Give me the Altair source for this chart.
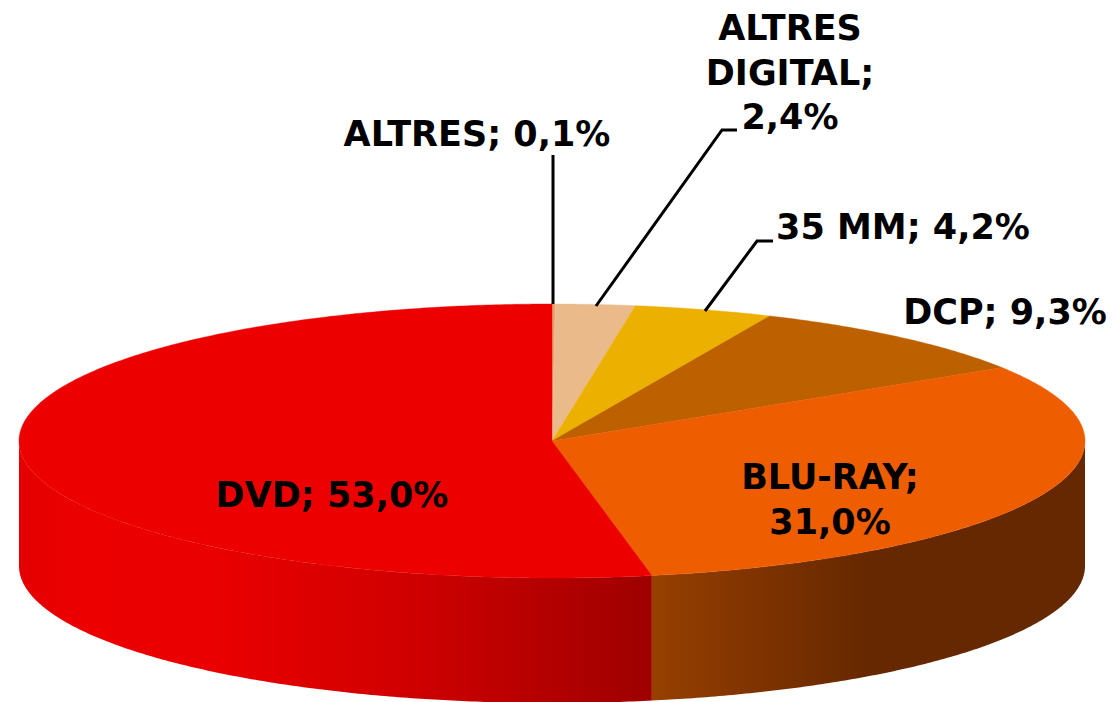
import math
import altair as alt

# Chart values
names = ["ALTRES", "ALTRES DIGITAL", "35 MM", "DCP", "BLU-RAY", "DVD"]
shares = [0.1, 2.4, 4.2, 9.3, 31.0, 53.0]
slice_colors = ["#e9a070", "#ebba8b", "#ecb100", "#bc6000", "#ee5e00", "#ec0000"]

# Labels
label_texts = ["ALTRES; 0,1%", "ALTRES\nDIGITAL;\n2,4%", "35 MM; 4,2%", "DCP; 9,3%", "BLU-RAY;\n31,0%", "DVD; 53,0%"]
label_x = [477, 790, 903, 1005, 830, 332]
label_y = [135, 29, 228, 313, 478, 496]

# Layout in page pixels
MARGIN = 8
CX, CY, RX, RY = 552, 441, 533, 137
DEPTH = 125
FONT = "DejaVu Sans"
FONT_SIZE = 35


def pt(deg, dy=0):
    a = math.radians(deg)
    return [CX + RX * math.sin(a) - MARGIN, CY - RY * math.cos(a) + dy - MARGIN]


def arc(a0, a1, dy=0):
    n = max(2, int(abs(a1 - a0) * 2) + 1)
    return [pt(a0 + (a1 - a0) * i / (n - 1), dy) for i in range(n)]


def feature(name, kind, coords):
    return {"type": "Feature", "properties": {"name": name},
            "geometry": {"type": kind, "coordinates": coords}}


total = sum(shares)
wedges = []
bounds = {}
acc = 0.0
for name, share in zip(names, shares):
    a0, a1 = acc / total * 360, (acc + share) / total * 360
    bounds[name] = (a0, a1)
    acc += share
    ring = [[CX - MARGIN, CY - MARGIN]] + arc(a0, a1) + [[CX - MARGIN, CY - MARGIN]]
    wedges.append(feature(name, "Polygon", [ring]))


def wall(name, a0, a1):
    top = arc(a0, a1)
    bottom = arc(a1, a0, DEPTH)
    return [feature(name, "Polygon", [top + bottom + [top[0]]])]


def grad(stops):
    return alt.LinearGradient(
        gradient="linear", x1=0, x2=1, y1=0, y2=0,
        stops=[alt.GradientStop(color=c, offset=o) for o, c in stops],
    )


proj = dict(type="identity", scale=1, translate=[0, 0])

_, blu1 = bounds["BLU-RAY"]
dvd0, _ = bounds["DVD"]

wall_blu = alt.Chart(alt.Data(values=wall("BLU-RAY", 90, blu1))).mark_geoshape(
    fill=grad([(0, "#974000"), (0.25, "#7e3300"), (0.5, "#662800"), (1, "#662800")]),
).project(**proj)

wall_dvd = alt.Chart(alt.Data(values=wall("DVD", dvd0, 270))).mark_geoshape(
    fill=grad([(0, "#e40000"), (0.1, "#ec0000"), (0.3, "#ea0000"), (0.6, "#d20000"), (1, "#9e0000")]),
).project(**proj)

color_scale = alt.Scale(domain=names, range=slice_colors)
top = alt.Chart(alt.Data(values=wedges)).mark_geoshape(strokeWidth=0.4).encode(
    color=alt.Color("properties.name:N", scale=color_scale, legend=None),
    stroke=alt.Stroke("properties.name:N", scale=color_scale, legend=None),
).project(**proj)

# Leader lines, page pixels
leader_paths = [
    [[553, 155], [553, 304]],
    [[596, 306], [722, 130], [737, 130]],
    [[705, 311], [757, 241], [773, 241]],
]
leaders = alt.Chart(alt.Data(values=[
    feature("leader", "LineString", [[x - MARGIN, y - MARGIN] for x, y in p]) for p in leader_paths
])).mark_geoshape(filled=False, stroke="black", strokeWidth=3).project(**proj)

labels = alt.Chart(alt.Data(values=[
    {"t": t, "x": x - MARGIN, "y": y - MARGIN} for t, x, y in zip(label_texts, label_x, label_y)
])).mark_text(
    font=FONT, fontWeight="bold", fontSize=FONT_SIZE, color="black",
    lineBreak="\n", lineHeight=44.5, align="center", baseline="middle",
).encode(
    x=alt.X("x:Q", scale=None, axis=None),
    y=alt.Y("y:Q", scale=None, axis=None),
    text="t:N",
)

chart = alt.layer(wall_blu, wall_dvd, top, leaders, labels).properties(
    width=1099, height=694, padding=0,
    autosize=alt.AutoSizeParams(type="none"),
).configure_view(stroke=None)

chart.save("out.html", embed_options={"renderer": "svg", "actions": False})
